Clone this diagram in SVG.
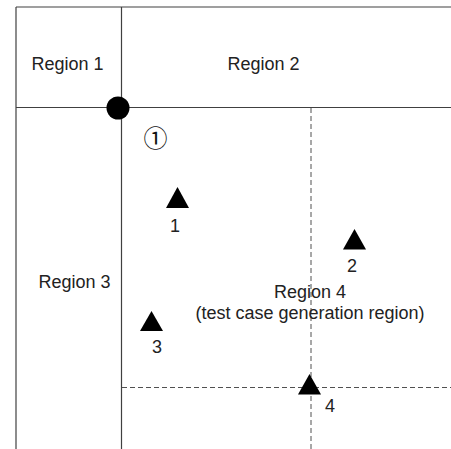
<svg xmlns="http://www.w3.org/2000/svg" width="451" height="449" viewBox="0 0 451 449">
  <style>
    .edge { stroke: #404040; stroke-width: 1.2; fill: none; }
    .dash { stroke: #505050; stroke-width: 1; stroke-dasharray: 5 3; fill: none; }
    .lbl { font-family: "Liberation Sans", Arial, sans-serif; font-size: 18px; fill: #222; text-anchor: middle; }
    .mark { fill: #000; }
  </style>
  <rect width="451" height="449" fill="#fff"/>

  <!-- region boundaries -->
  <g id="connectors">
    <line class="edge" x1="16" y1="7" x2="451" y2="7"/>
    <line class="edge" x1="16" y1="7" x2="16" y2="449"/>
    <line class="edge" x1="121.5" y1="7" x2="121.5" y2="449"/>
    <line class="edge" x1="16" y1="107.5" x2="451" y2="107.5"/>
    <line class="dash" x1="311" y1="108" x2="311" y2="449"/>
    <line class="dash" x1="122" y1="387.5" x2="451" y2="387.5"/>
  </g>

  <g id="region1"><text class="lbl" x="67.5" y="69.5">Region 1</text></g>
  <g id="region2"><text class="lbl" x="263.5" y="69.5">Region 2</text></g>
  <g id="region3"><text class="lbl" x="74.5" y="287.5">Region 3</text></g>
  <g id="region4">
    <text class="lbl" x="310" y="298">Region 4</text>
    <text class="lbl" x="310" y="318.5">(test case generation region)</text>
  </g>

  <!-- corner point and its marker -->
  <g id="origin"><circle class="mark" cx="118" cy="108" r="11.5"/></g>
  <g id="origin-label">
    <text x="155.5" y="146.5" font-family="'Noto Sans CJK JP', 'Noto Sans CJK SC', sans-serif" font-size="24px" fill="#111" text-anchor="middle">①</text>
  </g>

  <!-- test points -->
  <g id="point1">
    <polygon class="mark" points="177.5,187 166,208 189,208"/>
    <text class="lbl" x="175" y="232">1</text>
  </g>
  <g id="point2">
    <polygon class="mark" points="354.5,229 343,249.5 366,249.5"/>
    <text class="lbl" x="352" y="272">2</text>
  </g>
  <g id="point3">
    <polygon class="mark" points="151.5,311 140,331 163,331"/>
    <text class="lbl" x="157" y="353">3</text>
  </g>
  <g id="point4">
    <polygon class="mark" points="309.5,374 298,394.5 321,394.5"/>
    <text class="lbl" x="330" y="412">4</text>
  </g>
</svg>
